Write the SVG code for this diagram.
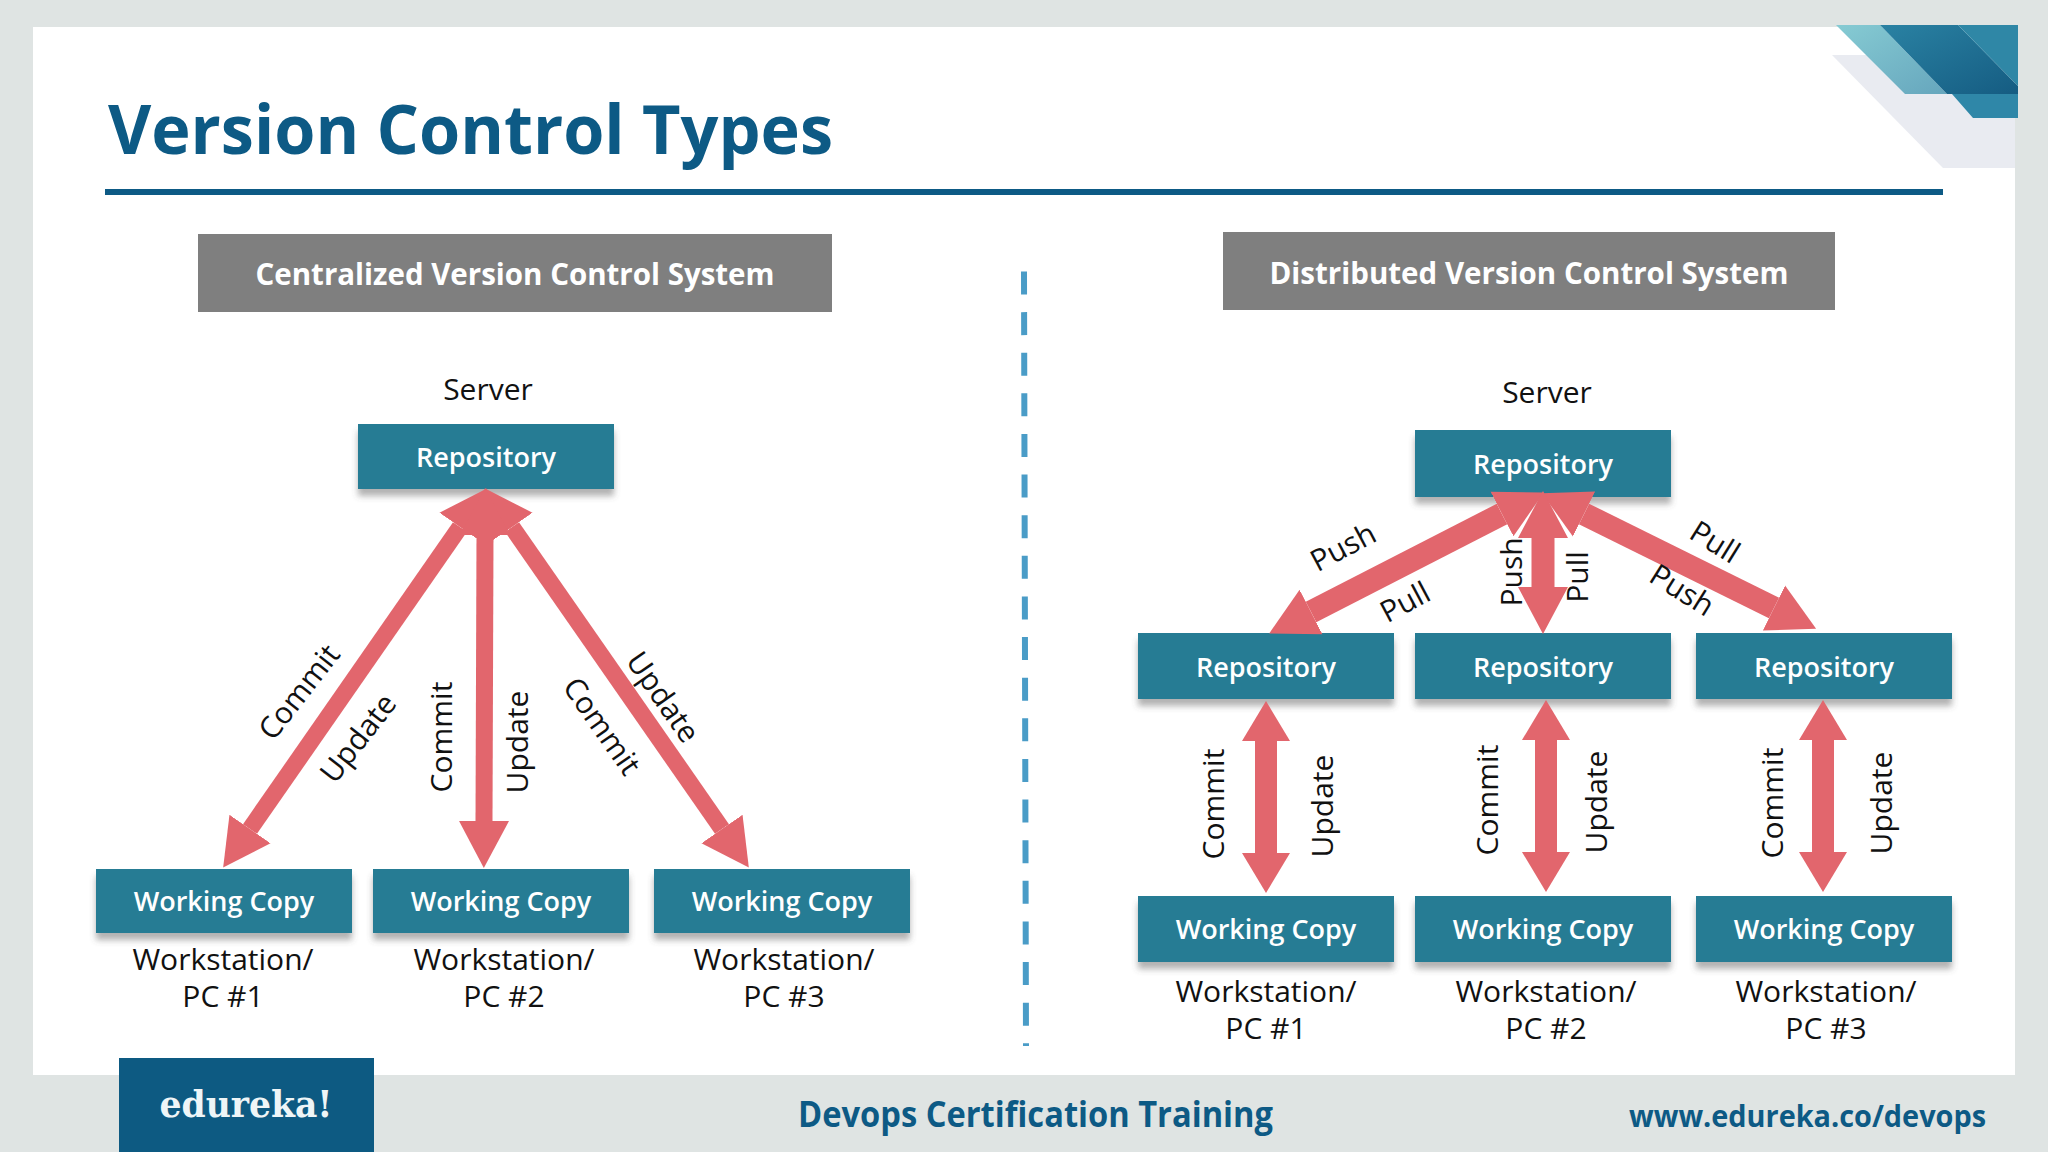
<svg xmlns="http://www.w3.org/2000/svg" width="2048" height="1152" viewBox="0 0 2048 1152">
<style>
text{font-family:"Open Sans","Noto Sans",sans-serif}
.box{fill:#267b94;filter:url(#sh)}
.bt{fill:#fff;font-size:27px;font-weight:600;text-anchor:middle}
.hd{fill:#7f7f7f}
.ht{fill:#fff;font-size:31px;font-weight:700;text-anchor:middle}
.lb{fill:#111;font-size:30px;text-anchor:middle}
.cap{fill:#111;font-size:30px;text-anchor:middle}
.a1{fill:none;stroke:#e2666d;stroke-width:17;marker-start:url(#h);marker-end:url(#h)}
.a2{fill:none;stroke:#e2666d;stroke-width:23;marker-start:url(#h);marker-end:url(#h)}
.a3{fill:none;stroke:#e2666d;stroke-width:22;marker-start:url(#h2);marker-end:url(#h2)}
</style>
<defs>
<filter id="sh" x="-5%" y="-10%" width="110%" height="135%"><feDropShadow dx="0" dy="7" stdDeviation="3" flood-color="#555" flood-opacity=".45"/></filter>
<marker id="h" markerUnits="userSpaceOnUse" markerWidth="50" markerHeight="52" refX="0" refY="26" orient="auto-start-reverse"><path d="M0,1L47,26L0,51Z" fill="#e2666d"/></marker>
<marker id="h2" markerUnits="userSpaceOnUse" markerWidth="42" markerHeight="50" refX="0" refY="25" orient="auto-start-reverse"><path d="M0,1L40,25L0,49Z" fill="#e2666d"/></marker>
<linearGradient id="g1" x1="0" y1="0" x2="1" y2="1"><stop offset="0" stop-color="#2a82a3"/><stop offset="1" stop-color="#155c82"/></linearGradient>
<linearGradient id="g2" x1="0" y1="0" x2="1" y2="1"><stop offset="0" stop-color="#86cbd3"/><stop offset="1" stop-color="#66a6bd"/></linearGradient>
</defs>
<rect width="2048" height="1152" fill="#dfe4e3"/>
<rect x="33" y="27" width="1982" height="1048" fill="#fff"/>
<polygon points="1832,55 1900,55 2015,118 2015,168 1943,168" fill="#e9ebf1"/>
<polygon points="1836,25 1880,25 1947,94 1905,94" fill="url(#g2)"/>
<polygon points="1880,25 1958,25 2018,86 2018,94 1947,94" fill="url(#g1)"/>
<polygon points="1958,25 2018,25 2018,86" fill="#2f87a6"/>
<polygon points="1952,94 2018,94 2018,118 1973,118" fill="#2f87a8"/>
<text x="108" y="154" font-size="68" font-weight="700" fill="#0d5a85" textLength="725" lengthAdjust="spacingAndGlyphs">Version Control Types</text>
<rect x="105" y="189" width="1838" height="6" fill="#0d5a85"/>
<path d="M1024,271.500L1026,1046" stroke="#4a9cc7" stroke-width="6" stroke-dasharray="23 17.620" fill="none"/>
<g id="header-centralized"><rect class="hd" x="198" y="234" width="634" height="78"/><text class="ht" x="515" y="285" textLength="519" lengthAdjust="spacingAndGlyphs">Centralized Version Control System</text></g>
<g id="header-distributed"><rect class="hd" x="1223" y="232" width="612" height="78"/><text class="ht" x="1529" y="284" textLength="519" lengthAdjust="spacingAndGlyphs">Distributed Version Control System</text></g>
<g id="nodes">
<g id="c-repo"><rect class="box" x="358" y="424" width="256" height="65"/><text class="bt" x="486" y="467">Repository</text></g>
<g id="c-wc1"><rect class="box" x="96" y="869" width="256" height="64"/><text class="bt" x="224" y="911">Working Copy</text></g>
<g id="c-wc2"><rect class="box" x="373" y="869" width="256" height="64"/><text class="bt" x="501" y="911">Working Copy</text></g>
<g id="c-wc3"><rect class="box" x="654" y="869" width="256" height="64"/><text class="bt" x="782" y="911">Working Copy</text></g>
<g id="d-repo"><rect class="box" x="1415" y="430" width="256" height="67"/><text class="bt" x="1543" y="474">Repository</text></g>
<g id="d-repo1"><rect class="box" x="1138" y="633" width="256" height="66"/><text class="bt" x="1266" y="677">Repository</text></g>
<g id="d-repo2"><rect class="box" x="1415" y="633" width="256" height="66"/><text class="bt" x="1543" y="677">Repository</text></g>
<g id="d-repo3"><rect class="box" x="1696" y="633" width="256" height="66"/><text class="bt" x="1824" y="677">Repository</text></g>
<g id="d-wc1"><rect class="box" x="1138" y="896" width="256" height="66"/><text class="bt" x="1266" y="939">Working Copy</text></g>
<g id="d-wc2"><rect class="box" x="1415" y="896" width="256" height="66"/><text class="bt" x="1543" y="939">Working Copy</text></g>
<g id="d-wc3"><rect class="box" x="1696" y="896" width="256" height="66"/><text class="bt" x="1824" y="939">Working Copy</text></g>
</g>
<g id="connectors">
<path class="a1" d="M460,527L250,829"/>
<path class="a1" d="M512,527L722,829"/>
<path class="a1" d="M485,535L484,821"/>
<path class="a2" d="M1502,514L1311,612"/>
<path class="a2" d="M1584,514L1774,608"/>
<path class="a2" d="M1543,538L1543,587"/>
<path class="a3" d="M1266,741L1266,853"/>
<path class="a3" d="M1546,740L1546,852"/>
<path class="a3" d="M1823,740L1823,852"/>
</g>
<g id="labels">
<text class="lb" x="488" y="400">Server</text>
<text class="lb" x="1547" y="403">Server</text>
<text class="cap" x="223" y="970">Workstation/</text><text class="cap" x="223" y="1007">PC #1</text>
<text class="cap" x="504" y="970">Workstation/</text><text class="cap" x="504" y="1007">PC #2</text>
<text class="cap" x="784" y="970">Workstation/</text><text class="cap" x="784" y="1007">PC #3</text>
<text class="cap" x="1266" y="1002">Workstation/</text><text class="cap" x="1266" y="1039">PC #1</text>
<text class="cap" x="1546" y="1002">Workstation/</text><text class="cap" x="1546" y="1039">PC #2</text>
<text class="cap" x="1826" y="1002">Workstation/</text><text class="cap" x="1826" y="1039">PC #3</text>
<text class="lb" dy=".35em" transform="translate(299,692) rotate(-52)">Commit</text>
<text class="lb" dy=".35em" transform="translate(358,738) rotate(-52)">Update</text>
<text class="lb" dy=".35em" transform="translate(441,737) rotate(-90)">Commit</text>
<text class="lb" dy=".35em" transform="translate(517,742) rotate(-90)">Update</text>
<text class="lb" dy=".35em" transform="translate(602,726) rotate(55)">Commit</text>
<text class="lb" dy=".35em" transform="translate(663,697) rotate(55)">Update</text>
<text class="lb" dy=".35em" transform="translate(1343,547) rotate(-28)">Push</text>
<text class="lb" dy=".35em" transform="translate(1405,602) rotate(-28)">Pull</text>
<text class="lb" dy=".35em" transform="translate(1511,572) rotate(-90)">Push</text>
<text class="lb" dy=".35em" transform="translate(1577,577) rotate(-90)">Pull</text>
<text class="lb" dy=".35em" transform="translate(1715,542) rotate(32)">Pull</text>
<text class="lb" dy=".35em" transform="translate(1682,590) rotate(32)">Push</text>
<text class="lb" dy=".35em" transform="translate(1213,804) rotate(-90)">Commit</text>
<text class="lb" dy=".35em" transform="translate(1322,806) rotate(-90)">Update</text>
<text class="lb" dy=".35em" transform="translate(1487,800) rotate(-90)">Commit</text>
<text class="lb" dy=".35em" transform="translate(1596,802) rotate(-90)">Update</text>
<text class="lb" dy=".35em" transform="translate(1772,803) rotate(-90)">Commit</text>
<text class="lb" dy=".35em" transform="translate(1881,803) rotate(-90)">Update</text>
</g>
<g id="footer">
<rect x="119" y="1058" width="255" height="94" fill="#0d5a82"/>
<text x="246" y="1117" text-anchor="middle" font-size="37" font-weight="700" fill="#eef5f7" textLength="173" lengthAdjust="spacingAndGlyphs" style="font-family:'DejaVu Serif',serif">edureka!</text>
<text x="798" y="1127" font-size="36" font-weight="700" fill="#0d5a85" textLength="475" lengthAdjust="spacingAndGlyphs">Devops Certification Training</text>
<text x="1629" y="1127" font-size="31" font-weight="700" fill="#0d5a85" textLength="357" lengthAdjust="spacingAndGlyphs">www.edureka.co/devops</text>
</g>
</svg>
